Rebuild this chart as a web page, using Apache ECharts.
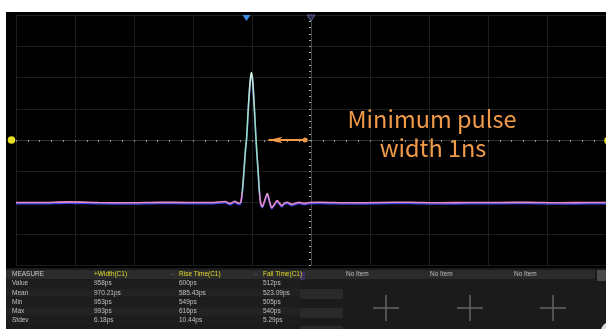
<!DOCTYPE html>
<html><head><meta charset="utf-8">
<script src="https://cdn.jsdelivr.net/npm/echarts@6/dist/echarts.min.js"></script>
<style>html,body{margin:0;padding:0;background:#fff}#c{width:606px;height:329px}</style>
</head><body><div id="c"></div>
<script>
// waveform: time (ns, 5 ns/div, 0 = screen centre) and amplitude (divisions)
const timeNs = [-25.0,-23.05,-20.5,-17.97,-15.42,-12.88,-10.34,-8.22,-7.29,-6.86,-6.44,-6.19,
  -5.96,-5.81,-5.68,-5.55,-5.45,-5.34,-5.25,-5.15,-5.06,-4.97,-4.89,-4.79,-4.69,-4.58,-4.47,-4.37,-4.26,
  -4.13,-3.94,-3.70,-3.52,-3.33,-3.09,-2.88,-2.67,-2.48,-2.29,-2.03,-1.61,-1.02,-0.59,-0.17,
  0.68,3.22,5.76,8.31,10.85,13.39,15.93,18.47,21.02,23.56,25.0];
const voltDiv = [-2.0,-2.0,-1.98,-2.0,-2.01,-1.99,-2.0,-2.0,-1.97,-2.03,-1.96,-2.02,
  -2.0,-1.6,-0.97,-0.3,0.10,0.85,1.40,1.90,2.16,2.0,1.61,0.95,0.23,-0.45,-1.06,-1.65,-2.03,
  -2.13,-1.95,-1.71,-1.95,-2.16,-2.05,-1.94,-2.02,-2.10,-2.03,-1.99,-2.06,-1.99,-2.03,-2.0,
  -1.99,-2.01,-2.0,-1.99,-2.01,-2.0,-2.0,-1.99,-2.01,-2.0,-2.0];
// annotation arrow (ns)
const arrowFrom = -0.5, arrowTo = -3.6;
const annotation = ['Minimum pulse', 'width 1ns'];
// measurement table
const measureHeader = ['MEASURE', '+Width(C1)', 'Rise Time(C1)', 'Fall Time(C1)'];
const measureRows = ['Value', 'Mean', 'Min', 'Max', 'Stdev'];
const widthVals = ['958ps', '970.21ps', '953ps', '993ps', '6.18ps'];
const riseVals = ['600ps', '585.43ps', '549ps', '616ps', '10.44ps'];
const fallVals = ['512ps', '523.09ps', '505ps', '540ps', '5.29ps'];
const slotLabels = ['No Item', 'No Item', 'No Item'];

const chart = echarts.init(document.getElementById('c'), null, {renderer: 'canvas'});
const data = timeNs.map((t, i) => [t, voltDiv[i]]);

const G = [];
G.push({type: 'rect', z: -10, shape: {x: 6, y: 12, width: 600, height: 256}, style: {fill: '#000'}});
G.push({type: 'rect', z: -10, shape: {x: 6, y: 268, width: 600, height: 61}, style: {fill: '#1b1b1b'}});
// table rows
const colX = [12, 94, 179, 263];
const rowY0 = 274.5, rowH = 9.2;
G.push({type: 'rect', z: -9, shape: {x: 6, y: 270, width: 337, height: 9}, style: {fill: '#2c2c2c'}});
for (let r = 0; r < measureRows.length; r++) {
  G.push({type: 'rect', z: -9, shape: {x: 6, y: rowY0 + rowH * (r + 1) - 4.4, width: 294, height: 8.6},
    style: {fill: r % 2 ? '#222' : '#1d1d1d'}});
}
const txt = (x, y, s, c) => ({type: 'text', z: 5, x: x, y: y,
  style: {text: s, fill: c, font: '6.5px "Liberation Sans"', verticalAlign: 'middle', align: 'left'}});
measureHeader.forEach((h, i) => G.push(txt(colX[i], rowY0, h, i ? '#e3dc2c' : '#c8c8c8')));
G.push(txt(171, rowY0, '–', '#666'));
G.push(txt(254, rowY0, '–', '#666'));
measureRows.forEach((lab, r) => {
  const y = rowY0 + rowH * (r + 1);
  G.push(txt(colX[0], y, lab, '#c0c0c0'));
  G.push(txt(colX[1], y, widthVals[r], '#c0c0c0'));
  G.push(txt(colX[2], y, riseVals[r], '#c0c0c0'));
  G.push(txt(colX[3], y, fallVals[r], '#c0c0c0'));
});
// side boxes
G.push({type: 'rect', z: -8, shape: {x: 300, y: 272, width: 5, height: 8}, style: {fill: '#3d3060'}});
G.push({type: 'rect', z: -8, shape: {x: 300, y: 289, width: 43, height: 10, r: 1}, style: {fill: '#2a2a2a'}});
G.push({type: 'rect', z: -8, shape: {x: 300, y: 308, width: 43, height: 10, r: 1}, style: {fill: '#2a2a2a'}});
G.push({type: 'rect', z: -8, shape: {x: 300, y: 326, width: 43, height: 10, r: 1}, style: {fill: '#2a2a2a'}});
// right header bar
G.push({type: 'rect', z: -8, shape: {x: 343, y: 270, width: 252, height: 9}, style: {fill: '#2b2b2b'}});
G.push({type: 'rect', z: -8, shape: {x: 597, y: 270, width: 9, height: 11}, style: {fill: '#4a4a4a'}});
const slotX = [346, 430, 514], plusX = [386, 470, 553];
slotLabels.forEach((s, i) => {
  G.push(txt(slotX[i], rowY0, s, '#bdbdbd'));
  G.push({type: 'line', z: 5, shape: {x1: plusX[i] - 13, y1: 308, x2: plusX[i] + 13, y2: 308}, style: {stroke: '#666', lineWidth: 1.5}});
  G.push({type: 'line', z: 5, shape: {x1: plusX[i], y1: 295, x2: plusX[i], y2: 321}, style: {stroke: '#666', lineWidth: 1.5}});
});
G.push({type: 'circle', z: 5, shape: {cx: 610, cy: 331, r: 9}, style: {fill: '#dcdcdc'}});
// markers
G.push({type: 'circle', z: 6, shape: {cx: 11.5, cy: 140, r: 3.8}, style: {fill: '#e6e020'}});
G.push({type: 'circle', z: 6, shape: {cx: 608, cy: 140.5, r: 3.8}, style: {fill: '#e6e020'}});
G.push({type: 'polygon', z: 6, shape: {points: [[242.5, 15], [250.5, 15], [246.5, 21]]}, style: {fill: '#3a8ee8'}});
G.push({type: 'polygon', z: 6, shape: {points: [[307, 15], [315, 15], [311, 21]]}, style: {fill: '#262a44', stroke: '#5c6294', lineWidth: 1}});
// annotation text
G.push({type: 'text', z: 6, x: 432, y: 119, style: {text: annotation[0], fill: '#f09a4a', font: '23.5px "Noto Sans CJK SC"', align: 'center', verticalAlign: 'middle'}});
G.push({type: 'text', z: 6, x: 433, y: 148, style: {text: annotation[1], fill: '#f09a4a', font: '23.5px "Noto Sans CJK SC"', align: 'center', verticalAlign: 'middle'}});

chart.setOption({
  animation: false,
  backgroundColor: '#fff',
  grid: {left: 16, top: 15, width: 591, height: 250, containLabel: false},
  xAxis: {type: 'value', min: -25, max: 25, interval: 5,
    axisLabel: {show: false},
    axisLine: {show: true, onZero: true, lineStyle: {color: '#333'}},
    axisTick: {show: true, length: 2, lineStyle: {color: '#888'}},
    minorTick: {show: true, splitNumber: 5, length: 2, lineStyle: {color: '#999'}},
    splitLine: {show: true, lineStyle: {color: '#1d1d1d'}}},
  yAxis: {type: 'value', min: -4, max: 4, interval: 1,
    axisLabel: {show: false},
    axisLine: {show: true, onZero: true, lineStyle: {color: '#444'}},
    axisTick: {show: true, length: 2, lineStyle: {color: '#aaa'}},
    minorTick: {show: true, splitNumber: 5, length: 2, lineStyle: {color: '#aaa'}},
    splitLine: {show: true, lineStyle: {color: '#1d1d1d'}}},
  graphic: G,
  series: [{
    type: 'line', data: data, showSymbol: false, smooth: 0.25, z: 4,
    lineStyle: {width: 1.6,
      color: {type: 'linear', x: 0, y: 0, x2: 0, y2: 1, colorStops: [
        {offset: 0, color: '#d6f3df'}, {offset: 0.4, color: '#8fdcb6'},
        {offset: 0.86, color: '#9fd6c0'}, {offset: 0.9, color: '#e58bc8'}, {offset: 1, color: '#e58bc8'}]},
      shadowColor: '#3a46e0', shadowOffsetY: 1.2, shadowBlur: 0},
    markLine: {silent: true, symbol: ['circle', 'arrow'], symbolSize: [5, 14],
      lineStyle: {color: '#f09a4a', width: 2.2, type: 'solid'}, label: {show: false},
      data: [[{coord: [arrowFrom, 0]}, {coord: [arrowTo, 0]}]]}
  }]
});
</script></body></html>
